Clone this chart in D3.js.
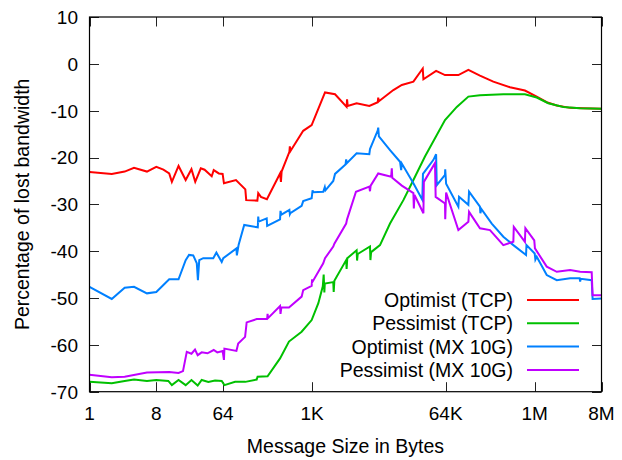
<!DOCTYPE html>
<html>
<head>
<meta charset="utf-8">
<script src="https://cdn.jsdelivr.net/npm/d3@7"></script>
<style>
  html, body { margin: 0; padding: 0; background: #fff; }
  text { font-family: "Liberation Sans", Arial, Helvetica, sans-serif; fill: #000; }
</style>
</head>
<body>
<svg id="chart" width="622" height="460"></svg>
<script>
// ---- Data (x = log2 of message size in bytes) ----
const xTickExp = [0, 3, 6, 10, 16, 20, 23];
const xTickLabels = ["1", "8", "64", "1K", "64K", "1M", "8M"];
const yTicks = [10, 0, -10, -20, -30, -40, -50, -60, -70];
const seriesNames = ["Optimist (TCP)", "Pessimist (TCP)", "Optimist (MX 10G)", "Pessimist (MX 10G)"];
const seriesColors = ["#ff0000", "#00c000", "#0080ff", "#c000ff"];

const optTcpX = [0, 1, 1.58, 2, 2.58, 3, 3.32, 3.58, 3.7, 4, 4.32, 4.58, 4.75, 5, 5.17, 5.49, 5.58, 5.81, 5.98, 6.04,
  6.58, 7, 7.04, 7.54, 7.58, 7.7, 7.97, 8.56, 8.6, 8.63, 8.98, 9.0, 9.03, 9.6, 9.98, 10.58, 11.03, 11.55, 11.57, 11.6,
  12, 12.57, 12.95, 12.97, 13.0, 13.65, 14.03, 14.55, 14.97, 15.0, 15.57, 15.97, 16.57, 17.02, 17.54, 18.14, 18.89,
  19.56, 20.09, 20.54, 20.99, 21.59, 22.18, 23];
const optTcpY = [-23.1, -23.5, -23.0, -22.2, -23.0, -22.0, -22.6, -23.4, -25.2, -21.8, -24.8, -22.5, -25.2, -22.3, -22.6, -24.0, -22.7, -23.4, -23.5, -25.5,
  -24.8, -26.8, -29.1, -29.2, -27.6, -28.4, -28.9, -23.4, -25.2, -23.0, -18.8, -17.6, -18.6, -14.3, -13.1, -6.1, -6.5, -9.2, -7.6, -9.0,
  -8.4, -9.0, -8.2, -7.2, -8.0, -5.6, -4.5, -3.8, -1.0, -3.3, -1.5, -2.4, -2.4, -1.3, -2.5, -3.8, -5.0,
  -5.7, -7.0, -8.2, -8.9, -9.4, -9.5, -9.6];

const pesTcpX = [0, 1, 1.58, 2, 2.58, 3, 3.54, 3.7, 4, 4.32, 4.58, 4.86, 5.04, 5.34, 5.64, 5.94, 6.06, 6.54, 7, 7.51,
  7.55, 8, 8.56, 8.96, 9.53, 9.98, 10.28, 10.48, 10.52, 10.55, 10.57, 10.95, 10.97, 11.0, 11.53, 11.55, 11.58,
  12, 12.02, 12.05, 12.6, 12.62, 12.65, 13.05, 13.5, 14.1, 14.55, 15.07, 15.97, 16.5, 17.02, 17.54, 18.59, 19.56,
  20.09, 20.61, 21.28, 22.03, 23];
const pesTcpY = [-67.9, -68.2, -67.7, -67.4, -67.7, -67.5, -67.7, -68.6, -67.5, -68.6, -67.5, -68.7, -67.5, -67.9, -67.6, -67.7, -68.6, -67.9, -67.9, -67.4,
  -66.8, -66.7, -62.9, -59.3, -57.2, -54.7, -51.1, -47.5, -45.0, -48.8, -46.9, -46.6, -48.7, -46.3, -41.9, -43.8, -41.5,
  -39.8, -42.0, -40.6, -39.0, -41.9, -40.2, -38.7, -34.1, -29.1, -24.8, -19.8, -12.0, -9.2, -7.0, -6.7, -6.5, -6.5,
  -7.2, -8.4, -9.2, -9.5, -9.6];

const optMxX = [0, 1, 1.58, 2, 2.58, 3, 3.58, 4, 4.32, 4.47, 4.66, 4.82, 4.87, 4.93, 5.11, 5.56, 5.7, 5.94, 6.01, 6.6,
  6.62, 6.7, 6.95, 7.56, 7.58, 7.6, 7.96, 7.98, 8.56, 8.58, 8.62, 8.98, 9.0, 9.02, 9.53, 9.6, 9.98, 10.02, 10.05,
  10.5, 10.57, 10.6, 10.95, 11.03, 11.5, 11.53, 11.56, 12, 12.57, 12.6, 12.95, 12.97, 13.0, 13.5, 13.95, 14.0, 14.03,
  14.55, 14.95, 14.98, 15.45, 15.57, 15.6, 15.97, 15.98, 16.02, 16.57, 16.6, 17.02, 17.05, 17.54, 17.56, 17.6,
  18.07, 18.59, 19.04, 19.61, 19.63, 20.0, 20.03, 20.09, 20.54, 20.99, 21.59, 22.02, 22.04, 22.07, 22.56, 22.6, 23];
const optMxY = [-47.6, -50.2, -47.8, -47.6, -49.0, -48.7, -46.0, -46.0, -41.9, -40.8, -40.9, -42.6, -46.2, -41.9, -41.5, -41.5, -40.3, -42.3, -41.5, -39.4,
  -40.9, -38.6, -34.4, -34.9, -32.6, -33.7, -33.0, -34.6, -33.2, -31.4, -32.2, -31.2, -32.1, -31.9, -30.3, -29.3, -28.7, -27.0, -27.4,
  -27.3, -26.3, -27.0, -25.0, -23.5, -21.5, -20.4, -21.2, -19.1, -19.3, -18.2, -14.2, -13.6, -15.5, -18.4, -20.9, -22.7, -21.3,
  -25.5, -29.0, -23.5, -20.5, -19.3, -25.9, -23.7, -22.5, -25.6, -30.5, -28.4, -30.1, -27.3, -30.5, -31.9, -31.0,
  -34.1, -36.9, -38.7, -40.8, -38.7, -40.5, -41.8, -41.2, -45.1, -46.2, -45.8, -45.8, -46.5, -45.9, -46.2, -50.2, -50.1];

const pesMxX = [0, 1, 1.58, 2.58, 3.58, 4, 4.2, 4.37, 4.58, 4.74, 4.86, 5.04, 5.3, 5.58, 5.74, 5.98, 6.04, 6.06, 6.6, 6.68,
  6.99, 7.06, 7.51, 7.98, 8.0, 8.02, 8.56, 8.58, 8.62, 8.96, 9.53, 9.6, 9.98, 10.0, 10.02, 10.5, 10.58, 10.95, 11.0,
  11.53, 11.57, 11.97, 12.57, 12.6, 12.63, 12.97, 13.55, 13.58, 13.6, 14.03, 14.55, 14.57, 14.6, 15.0, 15.02, 15.52,
  15.55, 15.97, 15.98, 16.02, 16.57, 17.02, 17.05, 17.54, 17.99, 18.59, 19.04, 19.06, 19.56, 19.58, 19.98, 20.01,
  20.54, 20.99, 21.59, 22.04, 22.56, 22.6, 23];
const pesMxY = [-66.4, -66.9, -66.8, -65.9, -65.8, -66.0, -65.6, -61.5, -61.9, -61.0, -62.2, -61.6, -61.8, -61.1, -61.6, -61.3, -63.2, -60.8, -61.3, -59.7,
  -58.3, -55.2, -54.5, -54.5, -53.4, -54.3, -51.7, -53.4, -52.0, -52.0, -49.7, -48.3, -47.4, -46.0, -46.5, -42.6, -41.5, -39.0, -38.4,
  -34.1, -33.2, -27.3, -26.2, -27.2, -26.0, -23.4, -24.1, -22.3, -24.3, -26.0, -27.6, -30.9, -28.0, -31.9, -25.2, -21.2,
  -28.4, -29.8, -33.2, -27.5, -35.5, -33.7, -31.6, -35.1, -35.5, -38.7, -38.0, -34.8, -38.0, -35.1, -37.7, -39.4,
  -43.3, -44.4, -44.0, -44.4, -44.5, -49.4, -49.4];

const seriesX = [optTcpX, pesTcpX, optMxX, pesMxX];
const seriesY = [optTcpY, pesTcpY, optMxY, pesMxY];

// ---- Layout ----
const W = 622, H = 460;
const L = 89.5, R = 601.5, T = 17, B = 391.7;
const svg = d3.select("#chart");

const x = d3.scaleLinear().domain([0, 23]).range([L, R]);
const y = d3.scaleLinear().domain([-70, 10]).range([B, T]);

const FS = 19;

// Clip
svg.append("defs").append("clipPath").attr("id", "clip")
  .append("rect").attr("x", L).attr("y", T).attr("width", R - L).attr("height", B - T);

// Ticks (all four sides, inward)
const tickG = svg.append("g");
const TL = 9.5;
yTicks.forEach((v, i) => {
  const yy = Math.round(y(v)) + 0.5;
  tickG.append("line").attr("x1", L).attr("x2", L + TL).attr("y1", yy).attr("y2", yy)
    .attr("stroke", "#222").attr("stroke-width", 1);
  tickG.append("line").attr("x1", R - TL).attr("x2", R).attr("y1", yy).attr("y2", yy)
    .attr("stroke", "#222").attr("stroke-width", 1);
  svg.append("text").attr("x", 78).attr("y", y(v)).attr("dy", "0.36em")
    .attr("text-anchor", "end").attr("font-size", FS).text(v);
});
xTickExp.forEach((e, i) => {
  const xx = Math.round(x(e)) + 0.5;
  tickG.append("line").attr("x1", xx).attr("x2", xx).attr("y1", B).attr("y2", B - TL)
    .attr("stroke", "#222").attr("stroke-width", 1);
  tickG.append("line").attr("x1", xx).attr("x2", xx).attr("y1", T).attr("y2", T + TL)
    .attr("stroke", "#222").attr("stroke-width", 1);
  svg.append("text").attr("x", x(e)).attr("y", 420)
    .attr("text-anchor", "middle").attr("font-size", FS).text(xTickLabels[i]);
});

// Series lines
const line = d3.line().x(d => x(d[0])).y(d => y(d[1]));
const linesG = svg.append("g").attr("clip-path", "url(#clip)");
// draw in order so purple on top like reference
seriesX.forEach((xs, s) => {
  const pts = xs.map((xv, i) => [xv, seriesY[s][i]]);
  linesG.append("path").datum(pts)
    .attr("d", line)
    .attr("fill", "none")
    .attr("stroke", seriesColors[s])
    .attr("stroke-width", 2)
    .attr("stroke-linejoin", "miter")
    .attr("stroke-miterlimit", 4);
});

// Border
svg.append("rect").attr("x", L).attr("y", T).attr("width", R - L).attr("height", B - T)
  .attr("fill", "none").attr("stroke", "#000").attr("stroke-width", 1.2);

// Legend
const legY0 = 300, legDy = 23.3;
seriesNames.forEach((n, i) => {
  const yy = legY0 + i * legDy;
  svg.append("text").attr("x", 513).attr("y", yy).attr("dy", "0.36em")
    .attr("text-anchor", "end").attr("font-size", FS + 0.5).text(n);
  svg.append("line").attr("x1", 527).attr("x2", 579).attr("y1", yy).attr("y2", yy)
    .attr("stroke", seriesColors[i]).attr("stroke-width", 2);
});

// Axis titles
svg.append("text").attr("x", (L + R) / 2).attr("y", 453)
  .attr("text-anchor", "middle").attr("font-size", FS + 0.5).text("Message Size in Bytes");
svg.append("text").attr("transform", `translate(29, ${(T + B) / 2 + 0}) rotate(-90)`)
  .attr("text-anchor", "middle").attr("font-size", FS + 0.5).text("Percentage of lost bandwidth");
</script>
</body>
</html>
